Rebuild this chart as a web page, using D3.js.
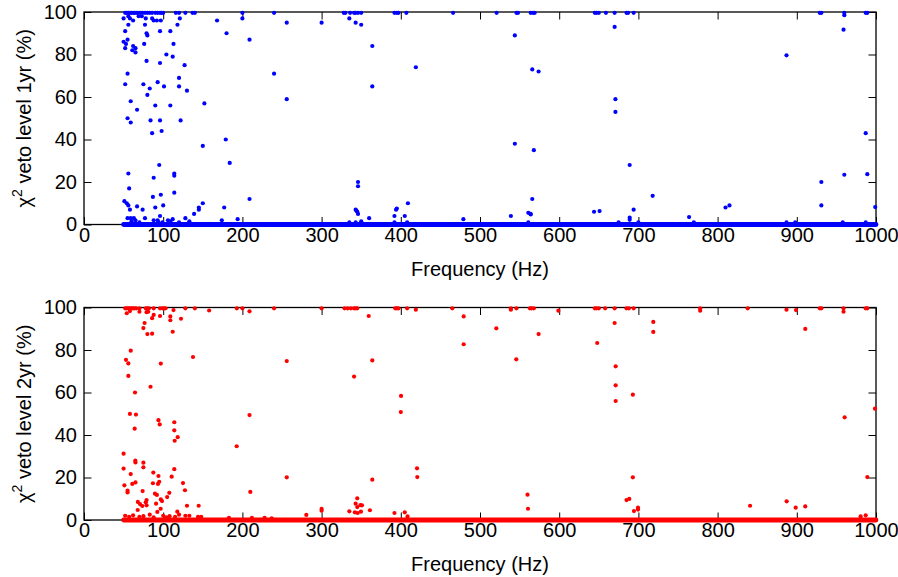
<!DOCTYPE html>
<html>
<head>
<meta charset="utf-8">
<script src="https://cdn.jsdelivr.net/npm/d3@7"></script>
<style>
    body { margin: 0; background: #fff; }
    text { font-family: "Liberation Sans", Arial, Helvetica, sans-serif; }
</style>
</head>
<body>
<svg id="chart" width="898" height="577"></svg>
<script>
// tick values
const freqTicks = [0, 100, 200, 300, 400, 500, 600, 700, 800, 900, 1000];
const vetoTicks = [0, 20, 40, 60, 80, 100];

// frequency ranges where the veto level sits at 0 (dense row of points)
const zeroRuns1yr = [[50, 1000]];
const zeroRuns2yr = [[50, 1000]];

// [frequency (Hz), veto level (%)] - 1 year
const points1yr = [
    [52,99.6],[54,99.6],[56,99.6],[58,99.6],[60,99.6],[62,99.6],[64,99.6],[66,99.6],[68,99.6],[71,99.6],
    [74,99.6],[77,99.6],[80,99.6],[83,99.6],[86,99.6],[90,99.6],[93,99.6],[96,99.6],[98,99.6],[100,99.6],
    [116,99.6],[120,99.6],[128,99.6],[137,99.6],[140,99.6],[200,99.6],[240,99.6],[328,99.6],[330,99.6],
    [336,99.6],[341,99.6],[343,99.6],[346,99.6],[350,99.6],[392,99.6],[395,99.6],[397,99.6],[407,99.6],
    [466,99.6],[521,99.6],[546,99.6],[548,99.6],[564,99.6],[567,99.6],[569,99.6],[645,99.6],[647,99.6],
    [650,99.6],[659,99.6],[670,99.6],[685,99.6],[687,99.6],[694,99.6],[929,99.6],[931,99.6],[960,99.6],
    [987,99.6],[989,99.6],
    [50,97],[56,98],[58,97],[62,96],[56,94],[69,98],[73,98],[78,97],[86,97],[88,96],[92,96],[97,96],
    [77,94],[52,91],[79,90],[80,89],[96,91],[109,91],[118,94],[121,97],[55,87],[50,86],[53,85],[52,83],
    [62,84],[65,83],[61,82],[65,81],[76,85],[113,85],[104,80],[112,79],[79,77],[96,76],[127,75],[55,71],
    [52,66],[75,66],[93,67],[83,64],[101,65],[120,69],[120,65],[130,63],[80,61],[59,58],[90,56],[109,56],
    [67,54],[152,57],[168,96],[180,90],[200,97],[209,87],[240,71],[256,59],[256,95],
    [55,50],[59,48],[84,49],[96,49],[122,49],[86,43],[98,44],[150,37],[179,40],[184,29],[95,28],[56,24],
    [88,22],[114,24],[114,23],[57,17],[97,14],[87,13],[114,15],[51,11],[54,10],[56,9],[58,7],[67,8.5],
    [74,7],[90,8],[100,9],[150,10],[145,8],[145,7],[139,5],[177,8],[209,12],[96,4],[128,3],[194,2.5],[174,2],
    [55,3],[59,3],[63,3],[65,2],[77,3],[93,2],[106,2],[109,1.5],[99,1],[94,1],[70,1],[60,1.5],[120,1],
    [133,1.5],[88,2],[112,2.5],
    [300,95],[335,97],[343,95],[350,94],[364,84],[419,74],[364,65],[544,89],[566,73],[574,72],[544,38],
    [568,35],[346,20],[346,18],[566,12],[409,10],[395,7.5],[394,7],[343,7],[345,6],[346,5],[344,6.5],
    [360,3],[405,4],[392,4],[539,4],[561,5.5],[564,4.7],[479,2.5],[335,1],[343,1],[350,1.5],[392,1],
    [408,1],[561,1],
    [670,93],[671,59],[671,53],[689,28],[718,13.5],[810,8],[815,9],[564,5],[644,6],[651,6.3],[694,7],
    [689,3.2],[689,2.2],[764,3.5],[675,1],[700,1],[770,1],
    [887,79.6],[959,91.7],[960,98.5],[987,43],[960,23.4],[989,23.7],[931,20],[931,9],[999,8.2],[887,1],
    [898,1],[958,1],[987,1]
];

// [frequency (Hz), veto level (%)] - 2 years
const points2yr = [
    [52,99.6],[54,99.6],[56,99.6],[58,99.6],[60,99.6],[62,99.6],[64,99.6],[66,99.6],[70,99.6],[78,99.6],
    [80,99.6],[82,99.6],[88,99.6],[96,99.6],[99,99.6],[101,99.6],[103,99.6],[128,99.6],[140,99.6],
    [193,99.6],[200,99.6],[240,99.6],[300,99.6],[329,99.6],[333,99.6],[337,99.6],[341,99.6],[343,99.6],
    [345,99.6],[393,99.6],[395,99.6],[397,99.6],[408,99.6],[465,99.6],[539,99.6],[546,99.6],[563,99.6],
    [565,99.6],[568,99.6],[599,98.5],[645,99.6],[647,99.6],[650,99.6],[658,99.6],[670,99.6],[685,99.6],
    [688,99.6],[694,99.6],[778,99.6],[778,98.5],[838,99.6],[887,99],[899,98.8],[929,99.6],[931,99.6],
    [959,99.6],[959,98],[987,99.6],[989,99.6],
    [54,97.3],[58,98.3],[70,98],[81,98],[79,97.8],[88,96.5],[86,95],[96,96],[113,98.8],[109,95.8],[109,94],
    [122.5,94.7],[158,98.6],[209,98.2],[76.5,92.7],[75,90.3],[80,87.5],[86,87.7],[112,88.6],[59,79.7],
    [53,75.4],[56,73.7],[97,73.6],[137.6,76.7],[256,74.8],[56,67.8],[84,62.7],[64.4,60],[58,49.9],
    [65.6,49.6],[209,49.4],[64,43],[94,47],[95.6,45],[114,46],[114,42.2],[118.3,39],[114.5,37.3],
    [192.8,34.7],[50,31.2],[64.8,27.9],[65,27.1],[75,27],[75,24.8],[50,24.2],[59,21.6],[114,23.9],
    [87.5,22.3],[94,20.7],[110.7,20.4],[256,20.1],[51,16.3],[61,17],[65,17.7],[55,13.8],[55,13],[87,17.3],
    [93.4,17],[95,18],[74,13.6],[125,17.4],[127.5,14],[210,13.2],[107.7,12.8],[89.6,12.4],[92,11.8],
    [105,10.8],[97,9.7],[98.5,8.9],[79,9.4],[78,8.3],[68,8.5],[70.7,7.5],[73.6,6.6],[79,6.9],[91,7.7],
    [130,6.7],[144.8,6.7],[67.8,4.7],[96.8,5.3],[92.6,3.8],[117.8,3.9],
    [83,2.5],[70,1.5],[108,1.8],[128,2],[133,2],[144,1.5],[148,1.5],[183,1],[212,1],[228,1],[237,0.8],
    [52,2],[57,1.5],[62,2.2],[75,1.8],[100,2],[115,1.5],[120,2.5],[88,1.2],[104,1.3],
    [359.5,96],[419,99],[479.4,95.8],[539,99],[520.6,90.2],[574,87.5],[479.4,82.7],[364,75.1],
    [545.8,75.6],[341,67.5],[400.3,58.4],[400,50.8],[420.5,24.3],[420.8,20.2],[364,19],[560,11.9],
    [560.6,5.3],[345,10.2],[343,7.7],[349,7],[351,6.9],[345,6.1],[335,4.1],[342,3.6],[345.5,3.3],
    [349.7,3.9],[361,4.6],[300,5.2],[300,4.4],[280.7,2.4],[392,3.3],[405,3.6],[408.5,1.7],
    [670,92.7],[718.8,93.2],[718.8,88.5],[648,83.3],[671.3,72.3],[671.3,63.4],[693,59],[671.3,56],
    [693,20.1],[685,9.4],[688.5,9.9],[699.5,5.8],[699.5,4.9],[694.4,4.2],[841,6.7],
    [910.7,89.9],[998.7,52.4],[960.4,48.3],[989,20.2],[887.2,8.8],[898.6,5.8],[910.7,6.4],[980.6,1.7],
    [987,2.2]
];

let svg = d3.select("#chart");

let plotLeft = 84;
let plotRight = 876;
let panelHeight = 212.5;
let tickLen = 7.5;
let fontSize = 20;

let xScale = d3.scaleLinear().domain([0, 1000]).range([plotLeft, plotRight]);

/**
 * Draw one scatter panel with a boxed MATLAB-like frame.
 */
function drawPanel(top, points, zeroRuns, color, yLabel) {
    let yScale = d3.scaleLinear().domain([0, 100]).range([top + panelHeight, top]);
    let g = svg.append("g");

    // ticks pointing inward on all four sides
    let xAxisBottom = d3.axisBottom(xScale).tickValues(freqTicks).tickFormat(d3.format("d"))
        .tickSizeInner(-tickLen).tickSizeOuter(0).tickPadding(3);
    let xAxisTop = d3.axisTop(xScale).tickValues(freqTicks)
        .tickSizeInner(-tickLen).tickSizeOuter(0).tickFormat("");
    let yAxisLeft = d3.axisLeft(yScale).tickValues(vetoTicks).tickFormat(d3.format("d"))
        .tickSizeInner(-tickLen).tickSizeOuter(0).tickPadding(7);
    let yAxisRight = d3.axisRight(yScale).tickValues(vetoTicks)
        .tickSizeInner(-tickLen).tickSizeOuter(0).tickFormat("");

    let axes = [
        g.append("g").attr("transform", "translate(0," + yScale(0) + ")").call(xAxisBottom),
        g.append("g").attr("transform", "translate(0," + yScale(100) + ")").call(xAxisTop),
        g.append("g").attr("transform", "translate(" + plotLeft + ",0)").call(yAxisLeft),
        g.append("g").attr("transform", "translate(" + plotRight + ",0)").call(yAxisRight)
    ];
    axes.forEach(function (a) {
        a.select(".domain").remove();
        a.selectAll("line").attr("stroke", "#000").attr("stroke-width", 1);
        a.selectAll("text").attr("fill", "#000")
            .style("font-size", fontSize + "px")
            .style("font-family", '"Liberation Sans", Arial, sans-serif');
    });

    // frame
    g.append("rect")
        .attr("x", plotLeft).attr("y", top)
        .attr("width", plotRight - plotLeft).attr("height", panelHeight)
        .attr("fill", "none").attr("stroke", "#000").attr("stroke-width", 1.3);

    // dense row of points at 0 %
    g.selectAll(".zero")
        .data(zeroRuns)
        .enter().append("line")
        .attr("x1", function (d) { return xScale(d[0]); })
        .attr("x2", function (d) { return xScale(d[1]); })
        .attr("y1", yScale(0)).attr("y2", yScale(0))
        .attr("stroke", color).attr("stroke-width", 4.8)
        .attr("stroke-linecap", "round");

    g.selectAll(".pt")
        .data(points)
        .enter().append("circle")
        .attr("cx", function (d) { return xScale(d[0]); })
        .attr("cy", function (d) { return yScale(d[1]); })
        .attr("r", 2.1)
        .attr("fill", color);

    // x label
    g.append("text")
        .attr("x", (plotLeft + plotRight) / 2)
        .attr("y", top + panelHeight + 51)
        .attr("text-anchor", "middle")
        .style("font-size", fontSize + "px")
        .text("Frequency (Hz)");

    // y label with chi squared
    let yl = g.append("text")
        .attr("transform", "translate(31," + (top + panelHeight / 2) + ") rotate(-90)")
        .attr("text-anchor", "middle")
        .style("font-size", fontSize + "px");
    yl.append("tspan").text("\u03c7");
    yl.append("tspan").attr("dy", -9).style("font-size", "14px").text("2");
    yl.append("tspan").attr("dy", 9).text(" " + yLabel);
}

drawPanel(12, points1yr, zeroRuns1yr, "#0000ff", "veto level 1yr (%)");
drawPanel(307.5, points2yr, zeroRuns2yr, "#ff0000", "veto level 2yr (%)");
</script>
</body>
</html>
